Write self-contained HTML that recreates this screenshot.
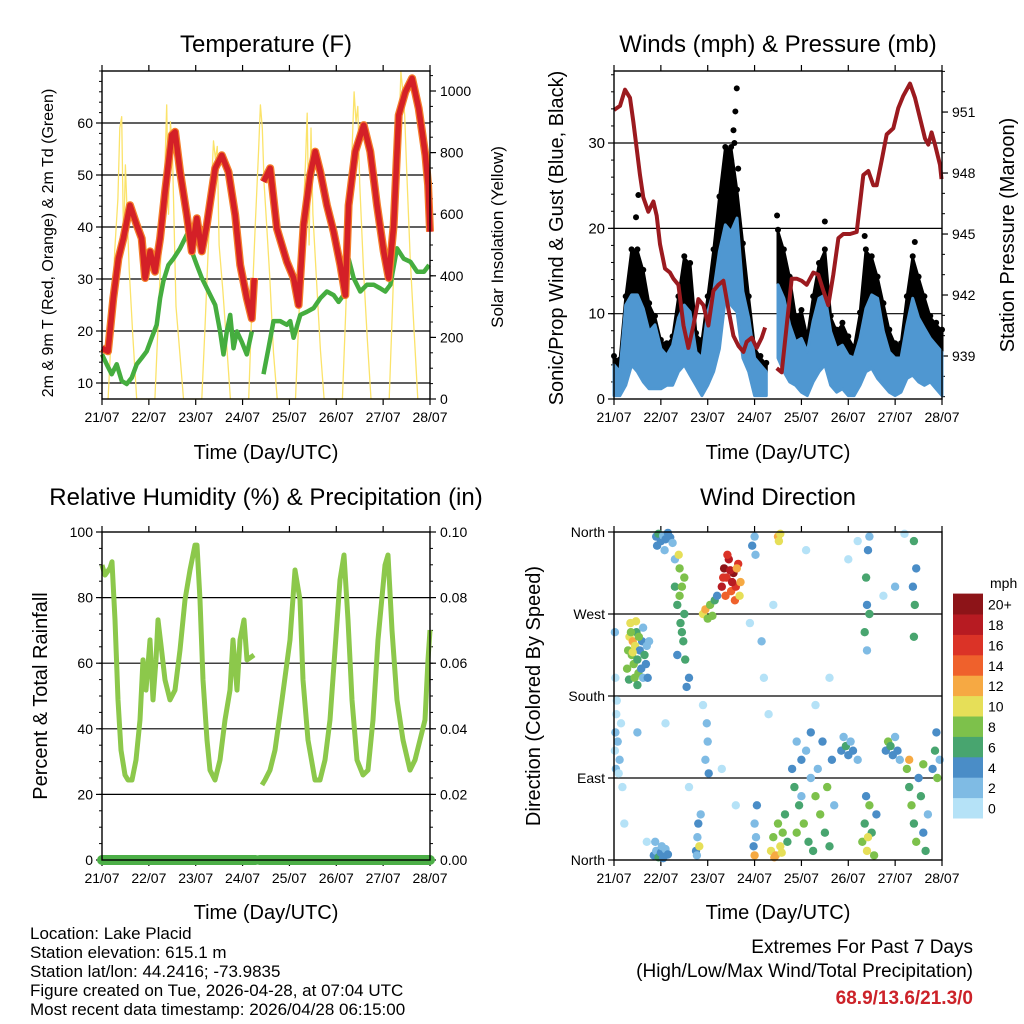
<!DOCTYPE html>
<html><head><meta charset="utf-8"><style>
html,body{margin:0;padding:0;background:#fff;}
svg{display:block;font-family:"Liberation Sans",sans-serif;}
</style></head><body>
<svg id="chart" width="1024" height="1024" viewBox="0 0 1024 1024" xmlns="http://www.w3.org/2000/svg">
<rect width="1024" height="1024" fill="#fff"/>
<text x="266" y="52" font-size="24" text-anchor="middle">Temperature (F)</text>
<text x="778" y="52" font-size="24" text-anchor="middle">Winds (mph) &amp; Pressure (mb)</text>
<text x="266" y="505" font-size="24" text-anchor="middle">Relative Humidity (%) &amp; Precipitation (in)</text>
<text x="778" y="505" font-size="24" text-anchor="middle">Wind Direction</text>
<text x="266" y="459" font-size="20" text-anchor="middle">Time (Day/UTC)</text>
<text x="778" y="459" font-size="20" text-anchor="middle">Time (Day/UTC)</text>
<text x="266" y="919" font-size="20" text-anchor="middle">Time (Day/UTC)</text>
<text x="778" y="919" font-size="20" text-anchor="middle">Time (Day/UTC)</text>
<text transform="translate(53,243) rotate(-90)" font-size="16" text-anchor="middle">2m &amp; 9m T (Red, Orange) &amp; 2m Td (Green)</text>
<text transform="translate(503,237) rotate(-90)" font-size="17" text-anchor="middle">Solar Insolation (Yellow)</text>
<text transform="translate(563,238) rotate(-90)" font-size="20" text-anchor="middle">Sonic/Prop Wind &amp; Gust (Blue, Black)</text>
<text transform="translate(1014,235) rotate(-90)" font-size="20" text-anchor="middle">Station Pressure (Maroon)</text>
<text transform="translate(47,696) rotate(-90)" font-size="20" text-anchor="middle">Percent &amp; Total Rainfall</text>
<text transform="translate(540,696) rotate(-90)" font-size="20" text-anchor="middle">Direction (Colored By Speed)</text>
<g font-size="17">
<text x="30" y="939">Location: Lake Placid</text>
<text x="30" y="958">Station elevation: 615.1 m</text>
<text x="30" y="977">Station lat/lon: 44.2416; -73.9835</text>
<text x="30" y="996">Figure created on Tue, 2026-04-28, at 07:04 UTC</text>
<text x="30" y="1015">Most recent data timestamp: 2026/04/28 06:15:00</text>
</g>
<g font-size="19" text-anchor="end">
<text x="973" y="953">Extremes For Past 7 Days</text>
<text x="973" y="977">(High/Low/Max Wind/Total Precipitation)</text>
<text x="973" y="1004" fill="#cc2229" font-weight="bold">68.9/13.6/21.3/0</text>
</g>
</svg>
<script>
// ---------- DATA ----------
const dayLabels=["21/07","22/07","23/07","24/07","25/07","26/07","27/07","28/07"];
const tempTime=[0,.128,.242,.349,.456,.598,.741,.848,.919,1.026,1.132,1.239,1.346,1.489,1.56,1.667,1.809,1.916,2.023,2.13,2.236,2.415,2.557,2.699,2.842,2.949,3.091,3.198,3.248,3.35,3.447,3.59,3.732,3.946,4.088,4.195,4.302,4.444,4.551,4.658,4.8,4.943,5.085,5.192,5.263,5.406,5.584,5.726,5.869,6.011,6.118,6.225,6.332,6.474,6.617,6.759,6.902,6.96,7.0];
const tempValue=[16.7,16.1,26.3,33.9,37.8,44.2,40.4,37.8,30.2,35.3,31.4,37.8,46.8,57.7,58.3,50.6,42.3,35.3,41.7,35.3,40.4,51.3,53.8,50.6,42.3,32.7,26.3,22.4,30.2,null,48.7,51.3,39.7,33.3,30.2,25.0,40.4,50.0,54.5,50.6,44.2,39.1,32.7,26.9,44.2,54.5,59.6,54.5,44.2,35.3,30.2,40.4,61.5,66.0,68.6,62.8,53.8,48.1,39.1];
const dewTime=[0,.1,.207,.314,.42,.527,.634,.741,.848,.955,1.061,1.168,1.239,1.311,1.417,1.524,1.667,1.809,1.916,2.023,2.13,2.272,2.415,2.521,2.593,2.664,2.735,2.806,2.878,2.984,3.091,3.198,3.35,3.447,3.554,3.661,3.803,3.946,4.017,4.088,4.231,4.373,4.516,4.658,4.8,4.943,5.049,5.157,5.263,5.37,5.513,5.655,5.798,5.94,6.047,6.154,6.296,6.439,6.581,6.724,6.873,6.98];
const dewValue=[15.5,13.6,11.7,13.6,10.4,9.8,11.0,13.6,14.8,16.1,18.7,21.2,26.3,29.6,32.7,33.9,35.9,38.5,35.3,32.7,30.2,27.6,25.0,19.9,15.5,19.9,23.1,16.7,19.9,17.9,15.5,19.9,null,11.7,16.7,21.9,21.9,21.2,21.9,18.7,23.1,23.7,24.4,26.3,27.6,26.9,25.6,26.9,33.9,30.2,27.6,28.9,28.9,28.2,27.6,28.9,35.9,33.9,33.3,31.4,31.4,32.7];
const solarTime=[0.13,0.2,0.27,0.34,0.38,0.42,0.46,0.5,0.58,0.66,0.74,1.13,1.2,1.27,1.34,1.38,1.42,1.46,1.5,1.58,1.66,1.74,2.13,2.2,2.27,2.34,2.38,2.42,2.46,2.5,2.58,2.66,2.74,3.13,3.2,3.27,3.34,3.38,3.42,3.46,3.5,3.58,3.66,3.74,4.13,4.2,4.27,4.34,4.38,4.42,4.46,4.5,4.58,4.66,4.74,5.13,5.2,5.27,5.34,5.38,5.42,5.46,5.5,5.58,5.66,5.74,6.13,6.2,6.27,6.34,6.38,6.42,6.46,6.5,6.58,6.66,6.74];
const solarValue=[0,220,480,650,880,917,500,760,420,200,0, 0,250,520,740,955,600,900,820,300,150,0, 0,240,500,700,838,780,820,500,350,180,0, 0,300,560,800,955,880,700,600,400,150,0, 0,260,520,760,928,500,880,600,380,160,0, 0,280,600,820,997,900,950,700,420,200,0, 0,300,620,880,1062,1000,920,750,450,220,0];
// winds sampled every 3 hours
const gustTop=[4.8,4.4,11.8,17.3,17.3,14.9,11.0,9.5,6.7,6.3,7.1,11.8,16.5,15.7,7.5,6.7,11.8,17.3,23.5,29.3,29.3,24.3,18.0,11.8,5.9,4.8,4.0,null,19.6,17.3,14.1,9.5,10.2,7.1,11.8,15.7,17.3,9.5,7.9,8.7,7.1,5.9,9.9,17.3,16.5,14.1,11.0,7.9,6.3,6.3,11.8,16.5,14.1,11.8,9.5,8.7,7.9];
const windTop=[4.0,3.2,11.0,12.2,12.2,10.6,7.9,8.7,5.9,5.1,6.3,9.5,11.0,10.2,5.5,4.8,10.2,12.6,17.3,20.4,19.6,21.2,12.6,9.5,4.8,4.0,3.2,null,13.4,11.8,8.7,6.7,7.1,5.5,9.1,11.8,12.2,7.9,5.9,6.3,5.1,4.8,7.1,10.6,12.2,11.8,7.9,5.5,4.8,4.8,8.7,11.8,9.5,8.3,7.1,6.3,5.5];
const windLow=[0.4,0.4,1.6,4.0,3.2,2.0,1.2,1.2,1.2,1.6,1.6,3.2,4.0,2.8,1.6,0.4,1.6,3.2,5.9,11.8,11.0,10.2,4.8,3.2,0.4,0.4,0.4,null,4.8,3.2,2.0,1.6,0.8,0.4,2.0,3.2,4.0,1.6,0.8,1.2,0.4,0.4,1.6,3.2,3.6,2.4,1.6,0.8,0.4,0.8,2.4,2.8,2.0,1.6,2.0,1.2,0.4];
const gustPeakTime=[2.62,2.59,2.55,2.57,0.52,0.47,3.48,4.5,6.42,5.35,2.5,2.65];
const gustPeakValue=[36.4,33.7,31.5,30.0,23.9,21.3,21.5,20.8,18.4,19.1,28.0,27.0];
const pressTime=[0,.128,.235,.342,.413,.484,.555,.626,.733,.84,.911,.982,1.089,1.196,1.267,1.374,1.484,1.587,1.694,1.801,1.907,2.014,2.121,2.228,2.335,2.441,2.548,2.655,2.762,2.833,2.94,3.046,3.153,3.225,3.3,3.472,3.578,3.685,3.792,3.899,4.006,4.112,4.254,4.361,4.468,4.574,4.681,4.788,4.894,5.036,5.179,5.321,5.428,5.534,5.606,5.712,5.819,5.961,6.068,6.175,6.317,6.423,6.53,6.637,6.708,6.779,6.85,6.957,6.99];
const pressValue=[951.1,951.3,952.1,951.7,950.5,949.2,947.9,946.8,946.1,946.6,945.9,944.5,943.3,943.1,942.8,942.5,940.5,939.4,940.5,941.8,941.5,940.5,942.2,942.5,942.7,941.3,940.0,939.5,939.2,939.7,939.9,939.4,939.9,940.4,null,938.4,938.2,940.5,942.8,942.8,942.7,942.5,943.1,943.0,942.2,941.5,943.0,944.8,945.0,945.0,945.1,947.9,948.1,947.4,947.4,948.6,949.9,950.2,951.2,951.8,952.4,951.7,950.7,949.7,949.4,950.0,949.4,948.4,947.7];
const rhTime=[0,.064,.171,.213,.277,.341,.405,.491,.555,.64,.726,.811,.875,.939,1.024,1.088,1.152,1.195,1.259,1.344,1.451,1.558,1.665,1.771,1.878,1.985,2.027,2.091,2.155,2.241,2.305,2.411,2.518,2.625,2.732,2.796,2.881,2.945,3.03,3.094,3.244,3.33,3.414,3.478,3.585,3.692,3.841,4.012,4.119,4.225,4.289,4.396,4.545,4.652,4.759,4.866,4.972,5.079,5.164,5.25,5.335,5.442,5.57,5.676,5.783,5.89,6.039,6.103,6.189,6.295,6.423,6.573,6.679,6.786,6.893,6.957,7.0];
const rhValue=[89.9,86.9,89.0,90.9,73.2,48.8,33.5,25.9,24.4,24.4,30.5,42.7,61.0,51.8,67.1,48.8,61.0,73.2,65.5,54.9,48.8,51.8,64.0,79.3,88.4,96.0,96.0,79.3,54.9,36.6,27.4,24.4,30.5,42.7,51.8,67.1,51.8,67.1,73.2,61.0,62.5,null,22.9,24.4,27.4,33.5,48.8,67.1,88.4,79.3,54.9,36.6,24.4,24.4,30.5,42.7,64.0,85.4,93.0,73.2,48.8,30.5,25.9,27.4,42.7,67.1,89.9,93.0,70.1,48.8,36.6,27.4,30.5,36.6,42.7,61.0,70.1];
const precipTime=[0,3.28,3.36,7.0];
const precipValue=[0,0,0,0];
const dirTime=[0.02,0.03,0.05,0.04,0.06,0.08,0.1,0.12,0.15,0.03,0.02,0.18,0.22,
0.3,0.33,0.35,0.38,0.4,0.42,0.45,0.48,0.5,0.52,0.55,0.58,0.6,0.62,0.65,0.68,0.7,0.72,0.28,0.32,0.36,0.44,0.47,0.53,0.4,0.5,0.62,0.75,
0.9,0.95,1.0,1.05,1.1,1.15,1.2,1.25,0.92,1.08,1.3,
0.85,0.9,0.95,1.0,1.05,1.1,1.15,0.88,1.02,
1.3,1.35,1.4,1.42,1.45,1.48,1.5,1.52,1.55,1.38,1.45,1.6,1.4,1.5,1.35,
1.75,1.78,1.8,1.82,1.85,1.77,
1.9,1.95,2.0,2.05,2.1,2.15,2.2,
2.3,2.35,2.4,2.45,2.5,2.55,2.6,2.65,2.7,2.38,2.48,2.58,2.42,2.52,2.62,2.33,2.68,
1.95,2.0,2.02,1.98,
2.95,3.0,3.02,2.98,3.0,3.05,3.03,3.0,
3.5,3.52,3.55,
3.35,3.4,3.45,3.5,3.55,3.6,3.65,3.7,3.42,3.58,
3.8,3.85,3.9,3.95,4.0,4.05,4.1,4.15,4.2,4.25,4.3,4.35,4.4,4.45,4.5,4.55,4.6,4.65,4.7,4.0,4.2,3.9,
4.85,4.9,4.95,5.0,5.05,5.1,5.2,
5.3,5.35,5.4,5.45,5.5,5.55,5.6,5.38,5.42,
5.35,5.4,5.38,5.42,5.45,5.4,5.45,
5.8,5.85,5.9,5.95,6.0,6.05,6.1,
6.25,6.3,6.35,6.4,6.45,6.5,6.55,6.6,6.65,6.7,6.3,6.6,
6.4,6.42,6.45,6.4,6.38,
6.8,6.85,6.9,6.95,6.88,
1.6,2.3,2.6,3.2,3.3,3.15,4.3,4.6,2.9,1.9,0.7,5.0,5.2,6.0,6.2,0.5,1.1,3.4,4.1,5.75];
const dirDeg=[120,140,160,100,175,130,95,110,150,200,250,80,40,
230,245,260,225,240,215,235,250,220,205,230,210,240,200,225,215,235,200,210,198,250,200,262,245,228,192,255,240,
355,358,350,356,352,359,354,348,345,340,330,
5,10,3,8,2,12,6,20,15,
300,280,320,260,300,240,270,220,190,335,250,200,290,310,225,
10,25,40,15,50,5,
270,275,265,280,268,285,290,
300,320,310,330,295,315,300,325,305,290,318,285,335,305,320,310,290,
110,130,95,150,
345,355,335,15,40,60,25,5,
355,350,358,
10,25,5,40,15,30,50,20,3,8,
100,80,130,60,110,40,120,20,90,10,70,100,50,130,30,80,15,110,60,70,140,30,
120,135,125,115,130,120,110,
20,40,10,60,30,5,50,70,25,
250,280,310,340,270,230,355,
120,130,125,115,135,120,110,
100,80,60,40,20,90,70,30,10,50,110,105,
245,280,320,350,300,
100,120,90,110,140,
80,100,60,200,160,240,170,200,260,170,20,330,350,300,358,140,150,280,340,290];
const dirSpeed=[1,2,1,2,1,2,1,2,1,1,2,1,1,
8,10,10,9,12,8,10,7,6,8,4,5,4,3,6,4,3,4,8,6,8,8,10,9,10,6,2,2,
4,6,4,3,4,5,4,2,4,3,2,
4,3,6,4,4,3,4,3,2,
6,7,8,6,8,6,7,6,5,10,7,4,8,8,4,
4,3,4,10,3,2,
10,12,8,9,8,6,4,
18,20,16,18,14,20,17,16,12,15,18,14,17,19,12,16,10,
3,3,4,3,
4,3,2,4,3,4,2,12,
12,10,10,
10,8,12,8,10,8,6,6,12,10,
4,6,2,6,4,8,2,6,3,6,8,2,8,4,6,8,6,4,2,2,4,8,
4,2,6,4,2,4,2,
8,6,10,8,6,8,4,4,10,
6,4,6,4,6,2,2,
4,8,6,4,2,4,2,
8,6,8,6,8,4,6,4,6,2,12,8,
6,6,4,6,4,
4,6,8,2,4,
1,1,1,1,1,2,1,1,1,1,1,1,1,2,1,3,1,1,1,1];
const speedColors=["#b5e2f7","#7fbbe4","#4a8dc7","#48a56f","#7dc14b","#e6df58","#f6a943","#ef612c","#db3327","#b71b22","#8d1418"];
const speedLabels=["0","2","4","6","8","10","12","14","16","18","20+"];

// ---------- HELPERS ----------
const NS="http://www.w3.org/2000/svg";
const svg=document.getElementById('chart');
function mk(tag,attrs,parent){const e=document.createElementNS(NS,tag);for(const k in attrs)e.setAttribute(k,attrs[k]);(parent||svg).appendChild(e);return e;}
function fmt(n){return Math.round(n*10)/10;}
function pathFrom(ts,vs,xf,yf){let d="",pen=false;for(let i=0;i<ts.length;i++){if(vs[i]===null||vs[i]===undefined){pen=false;continue;}d+=(pen?"L":"M")+fmt(xf(ts[i]))+","+fmt(yf(vs[i]));pen=true;}return d;}

const P1={x:102,y:71,w:328,h:328},P2={x:614,y:71,w:328,h:328},P3={x:102,y:532,w:328,h:328},P4={x:614,y:532,w:328,h:328};
const xs=P=>t=>P.x+t/7*P.w;
const yT=v=>383-(v-10)*5.2, yS=v=>399-v*0.308;
const yW=v=>399-v*8.533, yP=p=>356-(p-939)*20.33;
const yR=v=>860-v*3.28, yPr=v=>860-v*3280;
const yD=d=>860-d*0.9111;

function frame(P,name,grid,leftTicks,rightTicks){
  const g=mk('g',{});
  
  
  grid.forEach(y=>{mk('line',{x1:P.x,x2:P.x+P.w,y1:y,y2:y,stroke:'#000','stroke-width':1.2},g);});
  for(let i=0;i<=7;i++){const x=P.x+i/7*P.w;
    mk('line',{x1:x,x2:x,y1:P.y+P.h,y2:P.y+P.h+6,stroke:'#000','stroke-width':1.2},g);
    mk('line',{x1:x,x2:x,y1:P.y,y2:P.y-6,stroke:'#000','stroke-width':1.2},g);
    const t=mk('text',{x:x,y:P.y+P.h+23,'font-size':14,'text-anchor':'middle'},g);
    
    
    t.textContent=dayLabels[i];}
  leftTicks.major.forEach(([y,lab])=>{mk('line',{x1:P.x-6,x2:P.x,y1:y,y2:y,stroke:'#000','stroke-width':1.2},g);
    const t=mk('text',{x:P.x-9,y:y+5,'font-size':leftTicks.fs||14,'text-anchor':'end'},g);
    
    
    t.textContent=lab;});
  (leftTicks.minor||[]).forEach(y=>mk('line',{x1:P.x-3,x2:P.x,y1:y,y2:y,stroke:'#000','stroke-width':1},g));
  if(rightTicks){rightTicks.major.forEach(([y,lab])=>{mk('line',{x1:P.x+P.w,x2:P.x+P.w+6,y1:y,y2:y,stroke:'#000','stroke-width':1.2},g);
    const t=mk('text',{x:P.x+P.w+10,y:y+5,'font-size':rightTicks.fs||14,'text-anchor':'start'},g);
    
    
    t.textContent=lab;});
    (rightTicks.minor||[]).forEach(y=>mk('line',{x1:P.x+P.w,x2:P.x+P.w+3,y1:y,y2:y,stroke:'#000','stroke-width':1},g));}
  return g;
}
function border(P,name){const r=mk('rect',{x:P.x,y:P.y,width:P.w,height:P.h,fill:'none',stroke:'#000','stroke-width':1.4});
  
  }
function rng(a,b,s){const o=[];for(let v=a;v<=b+1e-9;v+=s)o.push(v);return o;}

// ---------- PANEL 1: Temperature ----------
frame(P1,'temperature',[10,20,30,40,50,60].map(yT),
  {major:[10,20,30,40,50,60].map(v=>[yT(v),String(v)]),minor:rng(8,70,2).map(yT)},
  {major:[0,200,400,600,800,1000].map(v=>[yS(v),String(v)]),minor:rng(0,1050,50).map(yS)});
const x1=xs(P1);
let e;
e=mk('path',{d:pathFrom(solarTime,solarValue,x1,yS),fill:'none',stroke:'#fbe36a','stroke-width':1.3,'stroke-linejoin':'round'});


e=mk('path',{d:pathFrom(dewTime,dewValue,x1,yT),fill:'none',stroke:'#45ad3f','stroke-width':4.5,'stroke-linejoin':'round'});


e=mk('path',{d:pathFrom(tempTime,tempValue,x1,yT),fill:'none',stroke:'#f47d2a','stroke-width':8,'stroke-linejoin':'round'});


e=mk('path',{d:pathFrom(tempTime,tempValue,x1,yT),fill:'none',stroke:'#d42027','stroke-width':5.5,'stroke-linejoin':'round'});


border(P1,'temperature');

// ---------- PANEL 2: Winds ----------
frame(P2,'winds',[10,20,30].map(yW),
  {major:[0,10,20,30].map(v=>[yW(v),String(v)]),minor:rng(0,38,2).map(yW),fs:15},
  {major:[939,942,945,948,951].map(v=>[yP(v),String(v)]),minor:rng(937,953,1).map(yP)});
const x2=xs(P2);
const wt=gustTop.map((_,i)=>i/8);
function band(lo,hi){let segs=[],cur=[];for(let i=0;i<wt.length;i++){if(hi[i]===null){if(cur.length)segs.push(cur);cur=[];}else cur.push(i);}if(cur.length)segs.push(cur);
  return segs.map(s=>{let d="";s.forEach((i,k)=>{d+=(k?"L":"M")+fmt(x2(wt[i]))+","+fmt(yW(hi[i]));});for(let k=s.length-1;k>=0;k--){const i=s[k];d+="L"+fmt(x2(wt[i]))+","+fmt(yW(lo[i]));}return d+"Z";}).join("");}
e=mk('path',{d:band(windTop,gustTop),fill:'#000',stroke:'#000','stroke-width':3,'stroke-linejoin':'round'});


for(let i=0;i<wt.length;i++){if(gustTop[i]===null)continue;
  const c=mk('circle',{cx:x2(wt[i]),cy:yW(gustTop[i])-2,r:3,fill:'#000'});
  
  }
for(let i=0;i<gustPeakTime.length;i++){const c=mk('circle',{cx:x2(gustPeakTime[i]),cy:yW(gustPeakValue[i]),r:3,fill:'#000'});
  
  }
e=mk('path',{d:band(windLow,windTop),fill:'#4f97d1',stroke:'#4f97d1','stroke-width':3,'stroke-linejoin':'round'});


e=mk('path',{d:pathFrom(pressTime,pressValue,x2,yP),fill:'none',stroke:'#9b1a1f','stroke-width':4,'stroke-linejoin':'round'});


border(P2,'winds');

// ---------- PANEL 3: RH ----------
frame(P3,'humidity',[20,40,60,80].map(yR),
  {major:[0,20,40,60,80,100].map(v=>[yR(v),String(v)]),minor:rng(0,100,5).map(yR)},
  {major:[0,.02,.04,.06,.08,.1].map(v=>[yPr(v),v.toFixed(2)]),minor:rng(0,.1,.005).map(yPr)});
const x3=xs(P3);
e=mk('path',{d:pathFrom(rhTime,rhValue,x3,yR),fill:'none',stroke:'#8cc84b','stroke-width':5,'stroke-linejoin':'round'});


e=mk('path',{d:pathFrom([precipTime[0],precipTime[1]],[precipValue[0],precipValue[1]],x3,yPr)+pathFrom([precipTime[2],precipTime[3]],[precipValue[2],precipValue[3]],x3,yPr),fill:'none',stroke:'#4caf47','stroke-width':10,'stroke-linecap':'round'});


border(P3,'humidity');

// ---------- PANEL 4: Wind direction ----------
frame(P4,'direction',[90,180,270].map(yD),
  {major:[[yD(0),'North'],[yD(90),'East'],[yD(180),'South'],[yD(270),'West'],[yD(360),'North']]},null);
const x4=xs(P4);
for(let i=0;i<dirTime.length;i++){
  const ci=Math.min(10,Math.floor(dirSpeed[i]/2));
  const c=mk('circle',{cx:fmt(x4(dirTime[i])),cy:fmt(yD(dirDeg[i])),r:4.2,fill:speedColors[ci]});
  
  
}
border(P4,'direction');
const cb=mk('g',{});


for(let i=0;i<11;i++){const y=818-(i+1)*20.4;
  const r=mk('rect',{x:953,y:fmt(y),width:30,height:20.9,fill:speedColors[i]},cb);
  
  
  const t=mk('text',{x:988,y:fmt(y+16),'font-size':14},cb);
  
  
  t.textContent=speedLabels[i];}
e=mk('text',{x:990,y:588,'font-size':14},cb);


e.textContent='mph';
</script>
</body></html>
